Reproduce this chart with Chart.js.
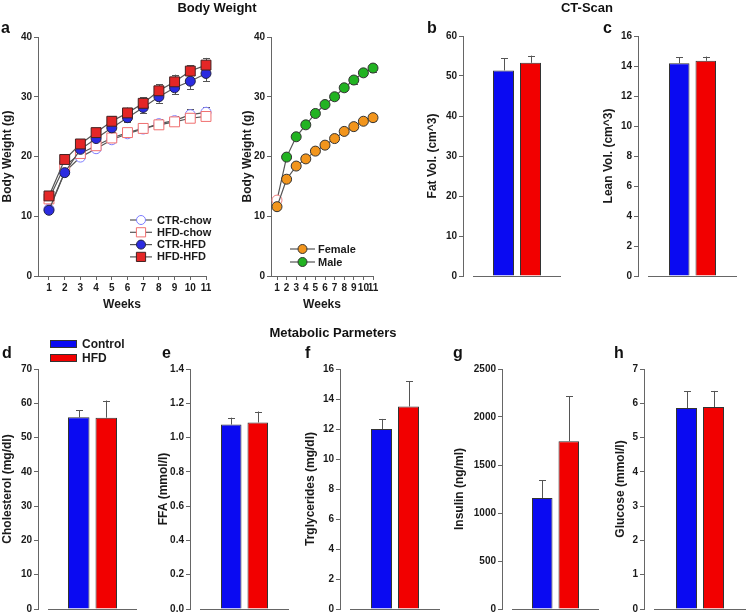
<!DOCTYPE html>
<html><head><meta charset="utf-8">
<script src="https://cdn.jsdelivr.net/npm/chart.js@4.4.1/dist/chart.umd.min.js"></script>
<style>
html,body{margin:0;padding:0;width:746px;height:614px;overflow:hidden;background:#fff;}
canvas{position:absolute;}
svg{position:absolute;left:0;top:0;}
svg text{font-family:"Liberation Sans",Arial,sans-serif;font-weight:bold;fill:#111;}
</style></head><body>
<div id="root"></div>
<svg width="746" height="614">
  <text x="217" y="12" font-size="13" text-anchor="middle">Body Weight</text>
  <text x="587" y="12" font-size="13" text-anchor="middle">CT-Scan</text>
  <text x="333" y="337" font-size="13" text-anchor="middle">Metabolic Parmeters</text>
  <text x="1" y="33" font-size="16">a</text>
  <text x="427" y="33" font-size="16">b</text>
  <text x="603" y="33" font-size="16">c</text>
  <text x="2" y="358" font-size="16">d</text>
  <text x="162" y="358" font-size="16">e</text>
  <text x="305" y="358" font-size="16">f</text>
  <text x="453" y="358" font-size="16">g</text>
  <text x="614" y="358" font-size="16">h</text>
</svg>
<script>
// ---------------- DATA ----------------
const weeks = [1,2,3,4,5,6,7,8,9,10,11];
const weekTicks = [1,2,3,4,5,6,7,8,9,10,11];

const ctrChow    = [11.2,17.4,19.9,21.3,22.8,23.8,24.6,25.5,26.0,27.0,27.4];
const ctrChowErr = [0.3,0.4,0.4,0.4,0.4,0.5,0.6,0.7,0.8,0.9,0.9];
const hfdChow    = [12.9,18.4,20.5,21.8,23.1,24.0,24.7,25.3,25.8,26.4,26.7];
const hfdChowErr = [0.3,0.4,0.4,0.4,0.4,0.4,0.5,0.5,0.5,0.6,0.6];
const ctrHfd     = [11.0,17.3,21.2,23.0,24.8,26.5,28.2,30.0,31.5,32.6,33.9];
const ctrHfdErr  = [0.3,0.4,0.5,0.6,0.7,0.8,0.9,1.0,1.1,1.3,1.3];
const hfdHfd     = [13.4,19.5,22.1,24.0,25.9,27.3,28.9,31.0,32.5,34.3,35.3];
const hfdHfdErr  = [0.3,0.4,0.5,0.7,0.8,0.9,1.0,1.1,1.2,1.0,1.2];

const female    = [11.6,16.2,18.4,19.6,20.9,21.9,23.0,24.2,25.0,25.9,26.5];
const femaleErr = [0.2,0.3,0.3,0.3,0.3,0.3,0.3,0.4,0.4,0.5,0.6];
const male      = [12.7,19.9,23.3,25.3,27.2,28.7,30.0,31.5,32.8,34.0,34.8];
const maleErr   = [0.2,0.3,0.3,0.3,0.3,0.3,0.4,0.5,0.6,0.6,0.7];

const groups = ['Control','HFD'];
const fatVol = [51.4, 53.3];        const fatVolErr = [3.0, 1.8];
const leanVol = [14.18, 14.35];     const leanVolErr = [0.40, 0.28];
const cholesterol = [55.9, 55.8];   const cholesterolErr = [2.0, 5.0];
const ffa = [1.076, 1.088];         const ffaErr = [0.040, 0.064];
const triglycerides = [12.0, 13.5]; const triglyceridesErr = [0.67, 1.67];
const insulin = [1156, 1748];       const insulinErr = [184, 466];
const glucose = [5.86, 5.89];       const glucoseErr = [0.49, 0.47];

// ---------------- STYLE ----------------
const FONT = '"Liberation Sans", Arial, sans-serif';
const AXIS = '#666';
const TXT = '#1a1a1a';
const BLUE = '#0a0af2';
const RED = '#f20000';
Chart.defaults.font.family = FONT;
Chart.defaults.font.weight = 'bold';
Chart.defaults.color = TXT;

const errorBarPlugin = {
  id: 'errorBars',
  beforeDatasetsDraw(chart, args, opts) { if (opts.mode === 'line') drawErr(chart, true); },
  afterDatasetsDraw(chart, args, opts) { if (opts.mode === 'bar') drawErr(chart, false); }
};
function drawErr(chart, both) {
  const ctx = chart.ctx, yS = chart.scales.y;
  ctx.save();
  ctx.strokeStyle = '#555'; ctx.lineWidth = 1;
  chart.data.datasets.forEach((ds, di) => {
    if (!ds.errors) return;
    const meta = chart.getDatasetMeta(di);
    ds.errors.forEach((e, i) => {
      const el = meta.data[i]; if (!el) return;
      const d = ds.data[i]; const v = (typeof d === 'object') ? d.y : d;
      const x = Math.round(el.x) + 0.5;
      const yTop = yS.getPixelForValue(v + e);
      const yBot = both ? yS.getPixelForValue(v - e) : el.y;
      ctx.beginPath();
      ctx.moveTo(x, yBot); ctx.lineTo(x, yTop);
      ctx.moveTo(x - 3.5, Math.round(yTop) + 0.5); ctx.lineTo(x + 3.5, Math.round(yTop) + 0.5);
      if (both) { ctx.moveTo(x - 3.5, Math.round(yBot) + 0.5); ctx.lineTo(x + 3.5, Math.round(yBot) + 0.5); }
      ctx.stroke();
    });
  });
  ctx.restore();
}

const xLinePlugin = {
  id: 'xLine',
  afterDraw(chart, args, opts) {
    if (!opts.show) return;
    const ctx = chart.ctx, a = chart.chartArea;
    ctx.save(); ctx.strokeStyle = AXIS; ctx.lineWidth = 1;
    const y = Math.round(a.bottom) + 0.5;
    ctx.beginPath(); ctx.moveTo(a.left + 10, y); ctx.lineTo(a.right - 10, y); ctx.stroke();
    ctx.restore();
  }
};

const legendPlugin = {
  id: 'customLegend',
  afterDraw(chart, args, opts) {
    if (!opts.items) return;
    const ctx = chart.ctx;
    ctx.save();
    ctx.font = 'bold ' + opts.fontSize + 'px ' + FONT;
    ctx.textBaseline = 'middle';
    ctx.fillStyle = TXT;
    opts.items.forEach((di, k) => {
      const ds = chart.data.datasets[di];
      const y = opts.y + k * opts.dy;
      if (opts.kind === 'line') {
        ctx.strokeStyle = ds.borderColor; ctx.lineWidth = ds.borderWidth;
        ctx.beginPath(); ctx.moveTo(opts.x, y); ctx.lineTo(opts.x + opts.len, y); ctx.stroke();
        ctx.fillStyle = ds.legendFill; ctx.strokeStyle = ds.legendStroke; ctx.lineWidth = 1;
        Chart.helpers.drawPoint(ctx, {pointStyle: ds.pointStyle, radius: ds.pointRadius - 0.5, borderWidth: 1, rotation: 0}, opts.x + opts.len / 2, y);
        ctx.fillStyle = TXT;
        ctx.fillText(ds.label, opts.x + opts.len + opts.gap, y + 0.5);
      } else {
        ctx.fillStyle = ds.backgroundColor; ctx.strokeStyle = '#333'; ctx.lineWidth = 1;
        ctx.fillRect(opts.x, y - 4, opts.len, 8);
        ctx.strokeRect(opts.x + 0.5, y - 3.5, opts.len - 1, 7);
        ctx.fillStyle = TXT;
        ctx.fillText(ds.label, opts.x + opts.len + opts.gap, y + 0.5);
      }
    });
    ctx.restore();
  }
};
Chart.register(errorBarPlugin, xLinePlugin, legendPlugin);

function makeCanvas(left, top, w, h) {
  const c = document.createElement('canvas');
  c.width = w; c.height = h;
  c.style.left = left + 'px'; c.style.top = top + 'px';
  c.style.width = w + 'px'; c.style.height = h + 'px';
  document.getElementById('root').appendChild(c);
  return c;
}

function yScale(max, step, title, width, decimals) {
  return {
    min: 0, max: max,
    ticks: { stepSize: step, font: {size: 10, weight: 'bold'}, color: TXT, padding: 2,
             callback: v => decimals ? Number(v).toFixed(decimals) : String(Math.round(v)) },
    grid: { display: true, drawOnChartArea: false, drawTicks: true, tickLength: 4, color: AXIS, tickColor: AXIS },
    border: { display: true, color: AXIS, width: 1 },
    title: { display: true, text: title, font: {size: 12, weight: 'bold'}, color: TXT, padding: {top: 0, bottom: 0} },
    afterFit: s => { s.width = width; }
  };
}

// ---------------- LINE PANELS ----------------
function pts(vals) { return weeks.map((w, i) => ({x: w, y: vals[i]})); }
function lineDs(label, vals, errs, style, fill, stroke, radius, order) {
  return {
    label, data: pts(vals), errors: errs, order,
    borderColor: '#555', borderWidth: 1.2, pointStyle: style, pointRadius: radius,
    pointBackgroundColor: fill, pointBorderColor: stroke, pointBorderWidth: 1,
    legendFill: Array.isArray(fill) ? fill[fill.length - 1] : fill,
    legendStroke: Array.isArray(stroke) ? stroke[stroke.length - 1] : stroke,
    clip: false, tension: 0
  };
}
function linePanel(left, width, axisW, xMin, datasets, legend) {
  const top = 20, h = 296;
  const c = makeCanvas(left, top, width, h);
  new Chart(c, {
    type: 'line',
    data: { datasets },
    options: {
      responsive: false, animation: false, devicePixelRatio: 1,
      layout: { padding: { top: 17, right: 10, left: 0, bottom: 0 } },
      plugins: { legend: {display: false}, tooltip: {enabled: false},
                 errorBars: {mode: 'line'}, xLine: {show: false},
                 customLegend: Object.assign({kind: 'line', fontSize: 11}, legend, {x: legend.x - left, y: legend.y - top}) },
      scales: {
        x: {
          type: 'linear', min: xMin, max: 11,
          afterBuildTicks: s => { s.ticks = weekTicks.map(v => ({value: v})); },
          ticks: { autoSkip: false, maxRotation: 0, minRotation: 0, font: {size: 10, weight: 'bold'}, color: TXT, padding: 2 },
          grid: { display: true, drawOnChartArea: false, drawTicks: true, tickLength: 4, color: AXIS, tickColor: AXIS },
          border: { display: true, color: AXIS, width: 1 },
          title: { display: true, text: 'Weeks', font: {size: 12, weight: 'bold'}, color: TXT, padding: {top: 0, bottom: 4} },
          afterFit: s => { s.height = 40; }
        },
        y: yScale(40, 10, 'Body Weight (g)', axisW, 0)
      }
    }
  });
}

linePanel(0, 216, 38, 0.3, [
  lineDs('CTR-chow', ctrChow, ctrChowErr, 'circle', '#ffffff', '#7c7cff', 5, 3),
  lineDs('HFD-chow', hfdChow, hfdChowErr, 'rect', '#ffffff', '#f07070', 7, 2),
  lineDs('CTR-HFD', ctrHfd, ctrHfdErr, 'circle', '#2b2be0', '#222244', 5, 1),
  lineDs('HFD-HFD', hfdHfd, hfdHfdErr, 'rect', '#e42626', '#442222', 7, 0)
], {items: [0,1,2,3], x: 130, y: 220, dy: 12.3, len: 22, gap: 5});

linePanel(240, 143, 31, 0.375, [
  lineDs('Female', female, femaleErr, 'circle', '#f2951c', '#333', 5, 0),
  lineDs('Male', male, maleErr, 'circle',
         male.map((v, i) => i === 0 ? '#ffffff' : '#22b322'),
         male.map((v, i) => i === 0 ? '#f08080' : '#333'), 5, 1)
], {items: [0,1], x: 290, y: 249, dy: 13, len: 25, gap: 3});

// ---------------- BAR PANELS ----------------
const barColors = [BLUE, RED];
function barPanel(left, top, axisX, blueLeft, redRight, values, errs, max, step, title, decimals, chartTop, chartBottom, legend) {
  const gap = 6;
  const center = (blueLeft + redRight) / 2;
  const right = 2 * center - axisX;
  const catW = right - axisX;
  const slot = (redRight - blueLeft + gap) / 2;
  const barW = slot - gap;
  const w = Math.ceil(right - left);
  const h = chartBottom + 9 - top;
  const c = makeCanvas(left, top, w, h);
  const legendOpts = legend ? Object.assign({kind: 'bar', fontSize: 12, items: [0,1]}, legend, {x: legend.x - left, y: legend.y - top}) : {};
  new Chart(c, {
    type: 'bar',
    data: {
      labels: [''],
      datasets: groups.map((g, i) => ({
        label: g, data: [values[i]], errors: [errs[i]],
        backgroundColor: barColors[i], borderColor: '#333', borderWidth: 1,
        categoryPercentage: 2 * slot / catW, barPercentage: barW / slot
      }))
    },
    options: {
      responsive: false, animation: false, devicePixelRatio: 1,
      layout: { padding: { top: chartTop - top, right: w - (right - left), left: 0, bottom: 9 } },
      plugins: { legend: {display: false}, tooltip: {enabled: false},
                 errorBars: {mode: 'bar'}, xLine: {show: true}, customLegend: legendOpts },
      scales: {
        x: { display: false },
        y: yScale(max, step, title, axisX - left, decimals)
      }
    }
  });
}

// top row (chart area 36..276)
barPanel(425, 20, 463, 493, 541, fatVol, fatVolErr, 60, 10, 'Fat Vol. (cm^3)', 0, 36, 276);
barPanel(601, 20, 638, 669, 716, leanVol, leanVolErr, 16, 2, 'Lean Vol. (cm^3)', 0, 36, 276);
// bottom row (chart area 369..609)
barPanel(0, 330, 38, 68, 117, cholesterol, cholesterolErr, 70, 10, 'Cholesterol (mg/dl)', 0, 369, 609,
         {x: 50, y: 344, dy: 14, len: 27, gap: 5});
barPanel(156, 330, 190, 221, 268, ffa, ffaErr, 1.4, 0.2, 'FFA (mmol/l)', 1, 369, 609);
barPanel(303, 330, 340, 371, 419, triglycerides, triglyceridesErr, 16, 2, 'Trglycerides (mg/dl)', 0, 369, 609);
barPanel(452, 330, 502, 532, 579, insulin, insulinErr, 2500, 500, 'Insulin (ng/ml)', 0, 369, 609);
barPanel(613, 330, 644, 676, 724, glucose, glucoseErr, 7, 1, 'Glucose (mmol/l)', 0, 369, 609);
</script>
</body></html>
